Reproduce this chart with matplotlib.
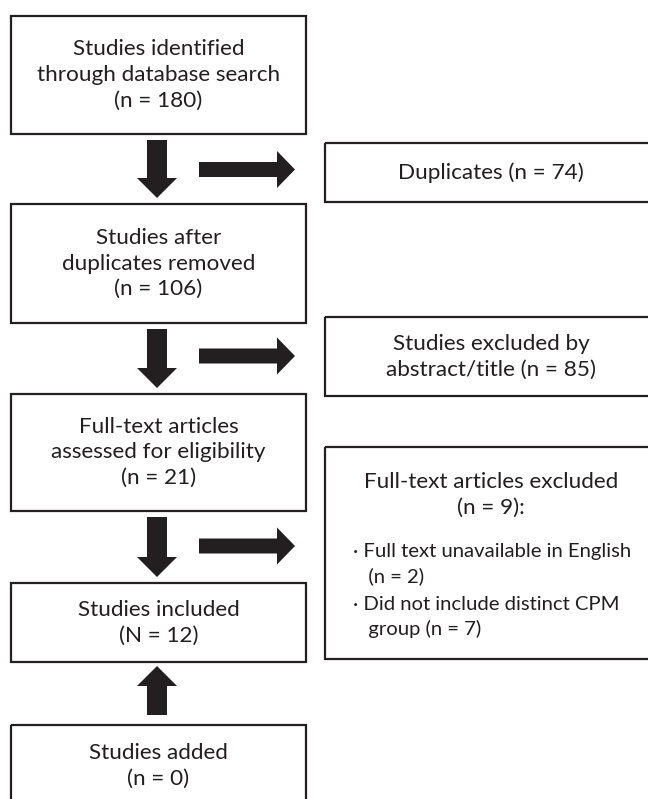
import matplotlib.pyplot as plt
from matplotlib.patches import Rectangle, FancyArrow

plt.rcParams['font.family'] = ['Lato', 'DejaVu Sans']

# ---- Flow content ----
main_labels = [
    'Studies identified\nthrough database search\n(n = 180)',
    'Studies after\nduplicates removed\n(n = 106)',
    'Full-text articles\nassessed for eligibility\n(n = 21)',
    'Studies included\n(N = 12)',
    'Studies added\n(n = 0)',
]
side_labels = [
    'Duplicates (n = 74)',
    'Studies excluded by\nabstract/title (n = 85)',
]
excluded_title = 'Full-text articles excluded\n(n = 9):'
excluded_items = [
    '\u00b7 Full text unavailable in English\n   (n = 2)',
    '\u00b7 Did not include distinct CPM\n   group (n = 7)',
]

# ---- Layout (pixels) ----
W, H = 648, 799
main_x0, main_x1 = 11, 306
main_y = [(16, 134), (204, 323), (394, 511), (583, 662), (725, 830)]
side_x0, side_x1 = 325, 657
side_y = [(143, 202), (317, 396), (447, 659)]
ink = '#231f20'
fs = 16.2
ls = 1.36

fig = plt.figure(figsize=(W / 100, H / 100), dpi=100)
ax = fig.add_axes([0, 0, 1, 1])
ax.set_xlim(0, W)
ax.set_ylim(H, 0)
ax.axis('off')

def box(x0, x1, y0, y1):
    ax.add_patch(Rectangle((x0, y0), x1 - x0, y1 - y0, fill=False,
                           edgecolor=ink, linewidth=1.6))

# Main column boxes
cx = (main_x0 + main_x1) / 2
for i, (label, (y0, y1)) in enumerate(zip(main_labels, main_y)):
    box(main_x0, main_x1, y0, y1)
    ty = y0 + 41 if i == 4 else (y0 + y1) / 2
    ax.text(cx, ty, label, ha='center', va='center', fontsize=fs,
            color=ink, linespacing=ls)

# Side boxes
sx = (side_x0 + side_x1) / 2
for label, (y0, y1) in zip(side_labels, side_y[:2]):
    box(side_x0, side_x1, y0, y1)
    ax.text(sx, (y0 + y1) / 2, label, ha='center', va='center', fontsize=fs,
            color=ink, linespacing=ls)

y0, y1 = side_y[2]
box(side_x0, side_x1, y0, y1)
ax.text(sx, 495, excluded_title, ha='center', va='center', fontsize=fs,
        color=ink, linespacing=ls)
ax.text(353, 564, excluded_items[0], ha='left', va='center', fontsize=14.6,
        color=ink, linespacing=1.5)
ax.text(353, 617, excluded_items[1], ha='left', va='center', fontsize=14.6,
        color=ink, linespacing=1.5)

# ---- Arrows ----
def arrow(x, y, dx, dy):
    ax.add_patch(FancyArrow(x, y, dx, dy, width=20, head_width=40,
                            head_length=20, length_includes_head=True,
                            color=ink, linewidth=0))

def side_arrow(y):
    ax.add_patch(FancyArrow(199, y, 96, 0, width=15, head_width=37,
                            head_length=18, length_includes_head=True,
                            color=ink, linewidth=0))

for (a, b), (c, d) in zip(main_y[:3], main_y[1:4]):
    arrow(157, b + 6, 0, (c - 6) - (b + 6))

arrow(157, main_y[4][0] - 10, 0, -(main_y[4][0] - 10 - (main_y[3][1] + 4)))

for ymid in [169.5, 356, 546]:
    side_arrow(ymid)

plt.savefig('out.png', dpi=100)
